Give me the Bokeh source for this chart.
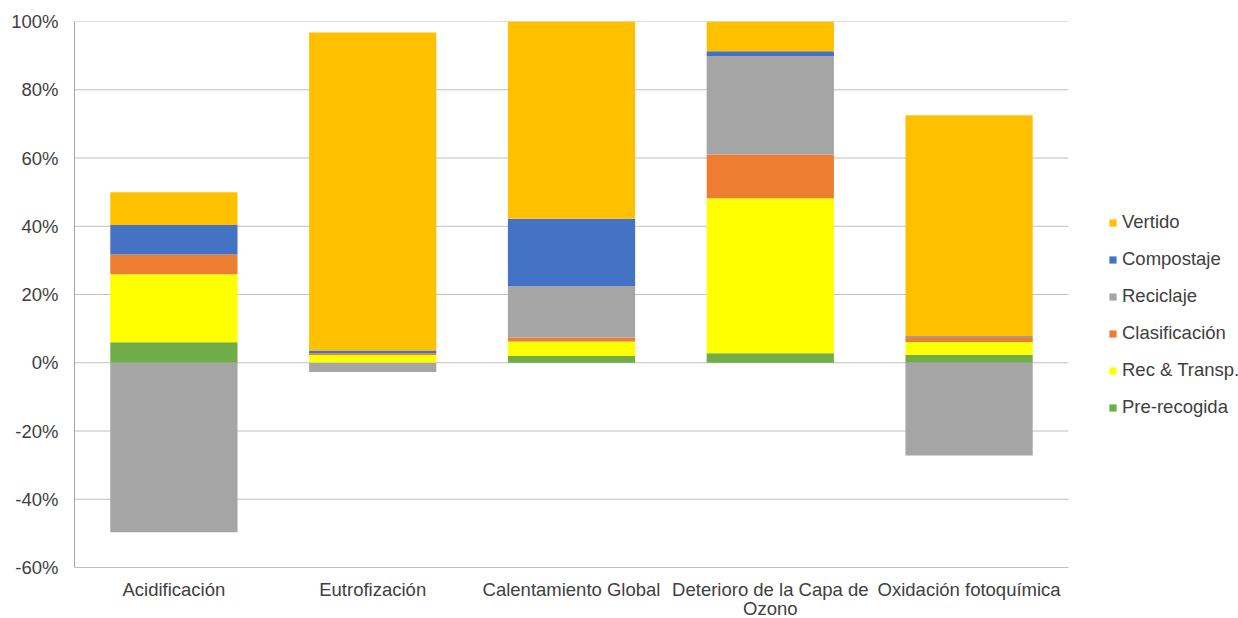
from bokeh.plotting import figure
from bokeh.models import ColumnDataSource, Range1d, Legend, LegendItem, FixedTicker
from bokeh.core.properties import value
from bokeh.embed import file_html
from bokeh.resources import INLINE

categories = ["Acidificación", "Eutrofización", "Calentamiento Global",
              "Deterioro de la Capa de\nOzono", "Oxidación fotoquímica"]
series_names = ["Pre-recogida", "Rec & Transp.", "Clasificación", "Reciclaje", "Compostaje", "Vertido"]
pre_recogida = [6.0, 0.0, 2.0, 2.8, 2.3]
rec_transp = [19.9, 2.3, 4.2, 45.4, 3.8]
clasificacion = [5.8, 0.5, 1.2, 12.8, 1.4]
reciclaje = [-49.7, -2.7, 15.0, 28.9, -27.2]
compostaje = [8.7, 0.8, 19.8, 1.4, 0.3]
vertido = [9.6, 93.2, 57.8, 8.7, 64.7]
colors = ["#70AD47", "#FFFF00", "#ED7D31", "#A5A5A5", "#4472C4", "#FFC000"]
y_ticks = [-60, -40, -20, 0, 20, 40, 60, 80, 100]

series = [pre_recogida, rec_transp, clasificacion, reciclaje, compostaje, vertido]

FONT = "Liberation Sans"
TXT = "#404040"
FS = "18.5px"

n = len(categories)
y_min, y_max = y_ticks[0], y_ticks[-1]
# frame extends under the legend and the category labels
x_end = n * 1164 / 994
y_start = y_min - (y_max - y_min) * 51 / 546

p = figure(width=1238, height=618, output_backend="svg", toolbar_location=None,
           x_range=Range1d(0, x_end), y_range=Range1d(y_start, y_max),
           min_border_left=74, min_border_right=0, min_border_top=21, min_border_bottom=0)
p.outline_line_color = None
p.background_fill_color = "white"

# horizontal gridlines limited to the category area
p.segment(x0=[0] * len(y_ticks), x1=[n] * len(y_ticks), y0=y_ticks, y1=y_ticks,
          line_color="#BFBFBF", line_width=1)

xs = [i + 0.5 for i in range(n)]
pos = [0.0] * n
neg = [0.0] * n
renderers = {}
for name, vals, col in zip(series_names, series, colors):
    bottoms, tops = [], []
    for i, v in enumerate(vals):
        if v >= 0:
            bottoms.append(pos[i]); tops.append(pos[i] + v); pos[i] += v
        else:
            bottoms.append(neg[i] + v); tops.append(neg[i]); neg[i] += v
    src = ColumnDataSource(dict(x=xs, bottom=bottoms, top=tops))
    r = p.vbar(x="x", bottom="bottom", top="top", width=0.64, source=src,
               fill_color=col, line_color=None)
    renderers[name] = r

# category labels below the plot area
p.text(x=xs, y=[y_min] * n, text=categories, y_offset=11,
       text_align="center", text_baseline="top", text_line_height=0.95,
       text_font=value(FONT), text_font_size=FS, text_color=TXT)

# y axis
p.yaxis.ticker = FixedTicker(ticks=y_ticks)
p.yaxis.bounds = (y_min, y_max)
p.yaxis.major_label_overrides = {t: f"{t}%" for t in y_ticks}
p.yaxis.axis_line_color = "#A6A6A6"
p.yaxis.major_tick_line_color = None
p.yaxis.minor_tick_line_color = None
p.yaxis.major_tick_out = 0
p.yaxis.major_tick_in = 0
p.yaxis.major_label_standoff = 16
p.yaxis.major_label_text_font = FONT
p.yaxis.major_label_text_font_size = FS
p.yaxis.major_label_text_color = TXT

p.xaxis.visible = False
p.xgrid.grid_line_color = None
p.ygrid.grid_line_color = None

items = [LegendItem(label=s, renderers=[renderers[s]]) for s in reversed(series_names)]
legend = Legend(items=items, location=(1034, 200), padding=0, margin=0,
                spacing=15, label_height=22, glyph_width=9, glyph_height=9,
                label_standoff=5, border_line_color=None, background_fill_alpha=0,
                label_text_font=FONT, label_text_font_size=FS, label_text_color=TXT)
p.add_layout(legend, "center")

open("out.html", "w").write(file_html(p, INLINE))
